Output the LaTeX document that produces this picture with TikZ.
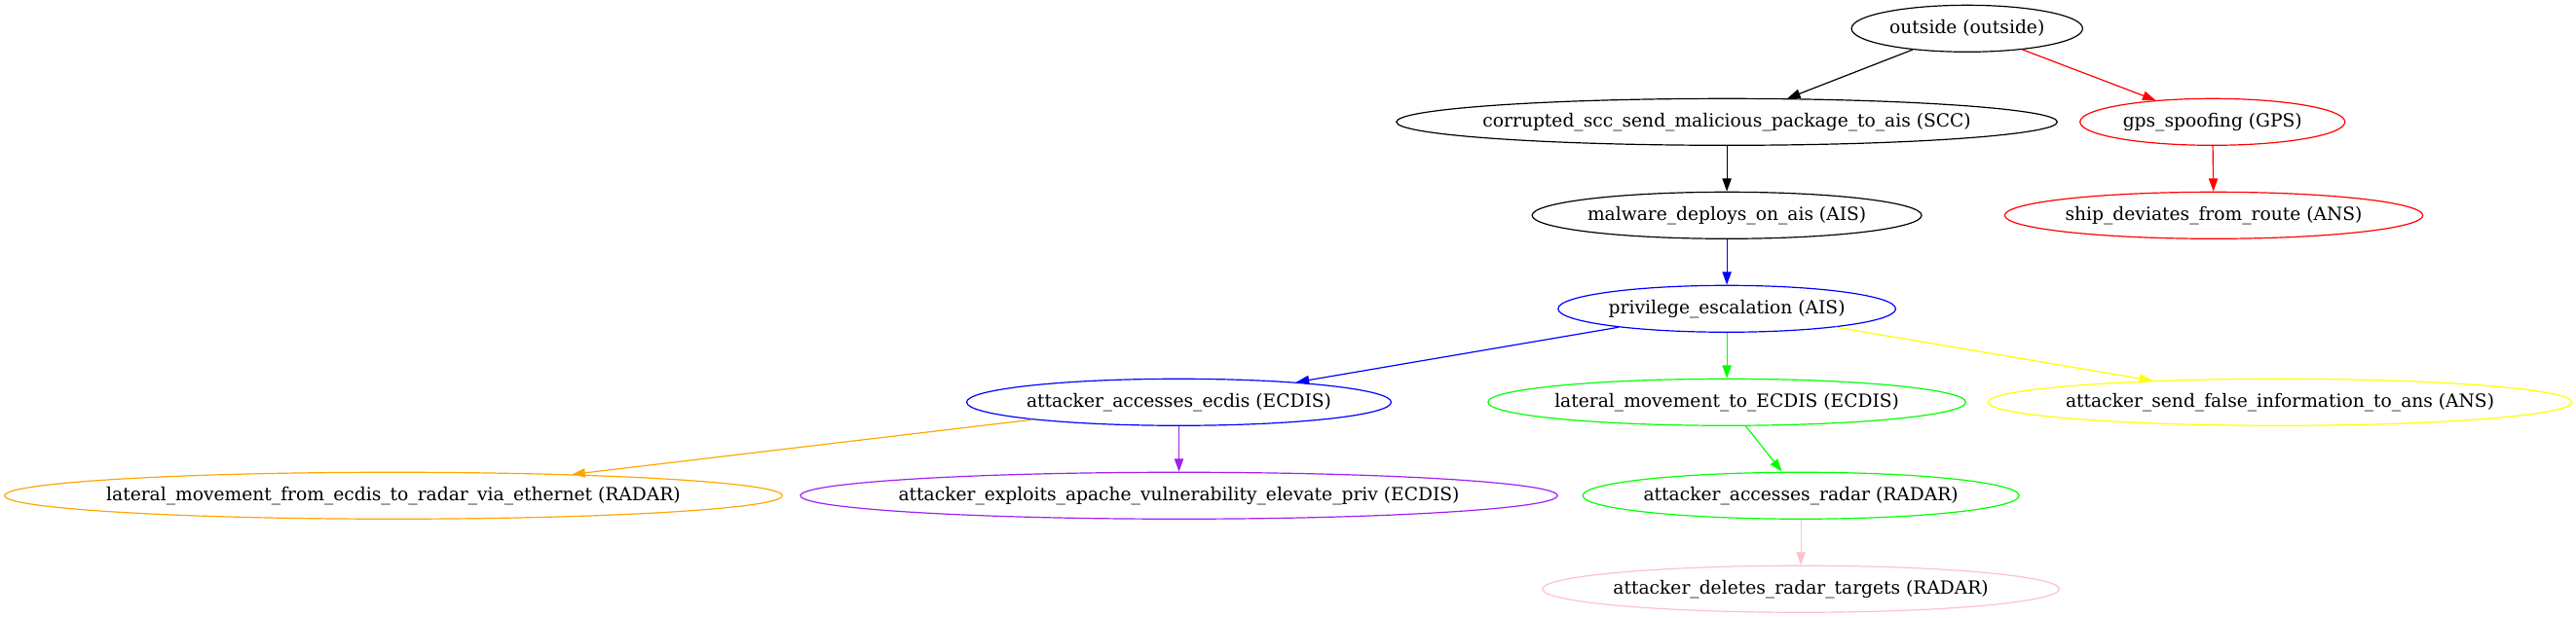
\documentclass[tikz,border=0pt]{standalone}
\usepackage{fontspec}
\setmainfont{DejaVu Serif}
\usepackage{xcolor}
\usepackage{tikz}
\usetikzlibrary{shapes.geometric, arrows.meta, positioning}
\definecolor{gvblue}{RGB}{0, 0, 255}
\definecolor{gvgreen}{RGB}{0, 255, 0}
\definecolor{gvred}{RGB}{255, 0, 0}
\definecolor{gvyellow}{RGB}{255, 255, 0}
\definecolor{gvorange}{RGB}{255, 165, 0}
\definecolor{gvpurple}{RGB}{160, 32, 240}
\definecolor{gvpink}{RGB}{255, 192, 203}

\begin{document}
\begin{tikzpicture}[
    x=1pt, y=1pt,
    attack/.style={ellipse, draw, line width=0.9pt, inner xsep=-60pt, inner ysep=4pt, minimum height=36pt, font=\fontsize{14pt}{16pt}\selectfont},
    arrow/.style={-{Triangle[length=10pt, width=7pt]}, line width=0.9pt}
]
    \useasboundingbox (0,0) rectangle (1984,476);

    % Entry point
    \node[attack, minimum width=178pt] (outside) at (1515,454) {outside (outside)};

    % Second rank
    \node[attack, minimum width=509pt] (corrupted) at (1330,382) {corrupted\_scc\_send\_malicious\_package\_to\_ais (SCC)};
    \node[attack, draw=gvred, minimum width=204pt] (gps) at (1704,382) {gps\_spoofing (GPS)};

    % Third rank
    \node[attack, minimum width=300pt] (malware) at (1330,310) {malware\_deploys\_on\_ais (AIS)};
    \node[attack, draw=gvred, minimum width=322pt] (ship) at (1705,310) {ship\_deviates\_from\_route (ANS)};

    % Fourth rank
    \node[attack, draw=gvblue, minimum width=260pt] (privilege) at (1330,238) {privilege\_escalation (AIS)};

    % Fifth rank
    \node[attack, draw=gvblue, minimum width=327pt] (ecdis) at (908,166) {attacker\_accesses\_ecdis (ECDIS)};
    \node[attack, draw=gvgreen, minimum width=368pt] (lateralto) at (1330,166) {lateral\_movement\_to\_ECDIS (ECDIS)};
    \node[attack, draw=gvyellow, minimum width=450pt] (falseinfo) at (1756,166) {attacker\_send\_false\_information\_to\_ans (ANS)};

    % Sixth rank
    \node[attack, draw=gvorange, minimum width=599pt] (lateralfrom) at (303,94) {lateral\_movement\_from\_ecdis\_to\_radar\_via\_ethernet (RADAR)};
    \node[attack, draw=gvpurple, minimum width=583pt] (apache) at (908,94) {attacker\_exploits\_apache\_vulnerability\_elevate\_priv (ECDIS)};
    \node[attack, draw=gvgreen, minimum width=336pt] (radar) at (1387,94) {attacker\_accesses\_radar (RADAR)};

    % Last rank
    \node[attack, draw=gvpink, minimum width=398pt] (deletes) at (1387,22) {attacker\_deletes\_radar\_targets (RADAR)};

    % Edges
    \draw[arrow] (outside) -- (corrupted);
    \draw[arrow, gvred] (outside) -- (gps);
    \draw[arrow] (corrupted) -- (malware);
    \draw[arrow, gvred] (gps) -- (ship);
    \draw[arrow, gvblue] (malware) -- (privilege);
    \draw[arrow, gvblue] (privilege) -- (ecdis);
    \draw[arrow, gvgreen] (privilege) -- (lateralto);
    \draw[arrow, gvyellow] (privilege) -- (falseinfo);
    \draw[arrow, gvorange] (ecdis) -- (lateralfrom);
    \draw[arrow, gvpurple] (ecdis) -- (apache);
    \draw[arrow, gvgreen] (lateralto) -- (radar);
    \draw[arrow, gvpink] (radar) -- (deletes);

\end{tikzpicture}
\end{document}
